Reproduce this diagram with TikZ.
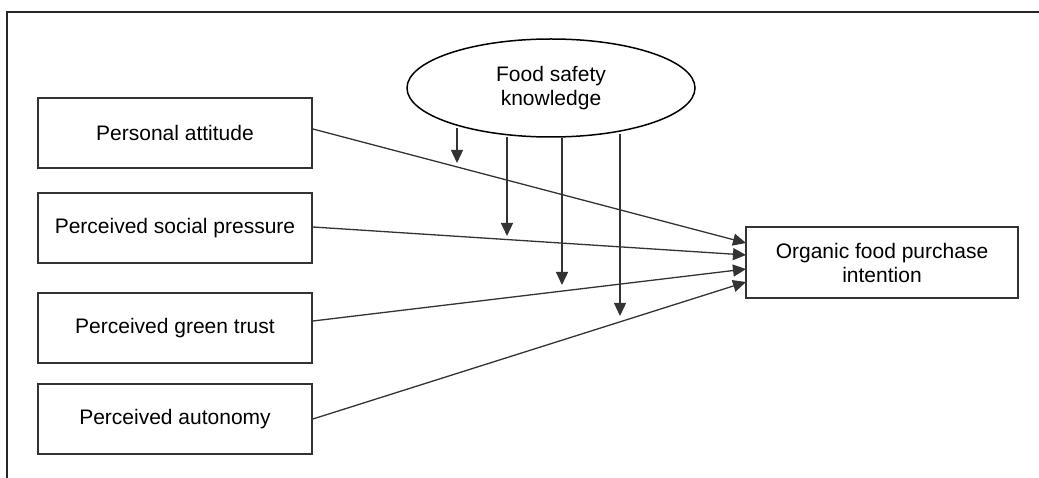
\documentclass[tikz,border=0pt]{standalone}
\usepackage{fontspec}
\setmainfont{Liberation Sans}
\usetikzlibrary{arrows.meta,shapes.geometric}
\begin{document}
\begin{tikzpicture}[x=1pt,y=-1pt,
  box/.style={draw=black!80,line width=1.8pt,minimum width=274pt,minimum height=70pt,inner sep=0pt,font=\fontsize{21}{24}\selectfont,align=center},
  conn/.style={draw=black!80,line width=1.3pt,-{Triangle[width=12pt,length=13pt]}},
  frame/.style={draw=black!85,line width=1.5pt}]
\useasboundingbox (0,0) rectangle (1039,478);
\draw[frame] (7,478) -- (7,12) -- (1039,12);
\node[box] (pa) at (175,133) {Personal attitude};
\node[box] (psp) at (175,228) {Perceived social pressure};
\node[box] (pgt) at (175,328) {Perceived green trust};
\node[box] (pau) at (175,419) {Perceived autonomy};
\node[box,minimum width=272pt,minimum height=71pt] (org) at (882,262.5) {Organic food purchase\\intention};
\node[ellipse,draw=black,line width=1.5pt,minimum width=288pt,minimum height=98pt,inner sep=0pt,align=center,font=\fontsize{21}{24}\selectfont] (fsk) at (551,88) {Food safety\\knowledge};
\coordinate (t1) at (746,243);
\coordinate (t2) at (746,255);
\coordinate (t3) at (746,269);
\coordinate (t4) at (746,282);
\draw[conn] (pa.east |- 0,129) -- (t1);
\draw[conn] (psp.east |- 0,227) -- (t2);
\draw[conn] (pgt.east |- 0,321) -- (t3);
\draw[conn] (pau.east |- 0,419) -- (t4);
\coordinate (s1) at (457,128);
\coordinate (e1) at (457,163);
\coordinate (s2) at (507,137);
\coordinate (e2) at (507,236);
\coordinate (s3) at (562,138);
\coordinate (e3) at (562,285);
\coordinate (s4) at (620,134);
\coordinate (e4) at (620,316);
\draw[conn] (s1) -- (e1);
\draw[conn] (s2) -- (e2);
\draw[conn] (s3) -- (e3);
\draw[conn] (s4) -- (e4);
\end{tikzpicture}
\end{document}
